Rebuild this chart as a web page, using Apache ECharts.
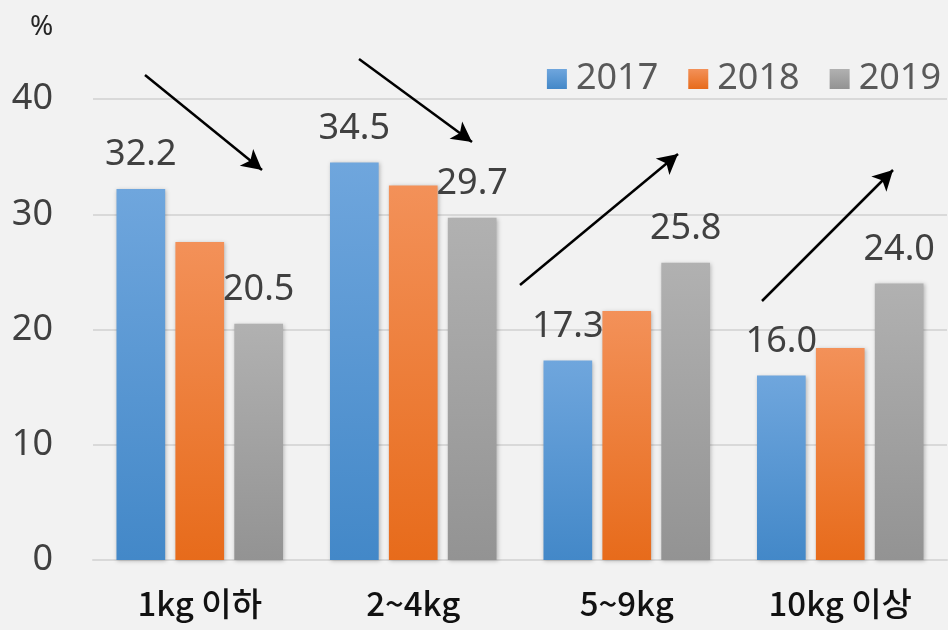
<!DOCTYPE html>
<html>
<head>
<meta charset="utf-8">
<script src="https://cdn.jsdelivr.net/npm/echarts@6/dist/echarts.min.js"></script>
<style>
html,body{margin:0;padding:0;background:#f2f2f2;}
#main{width:948px;height:630px;}
</style>
</head>
<body>
<div id="main"></div>
<script>
// 카테고리와 연도별 값
var categories = ['1kg 이하', '2~4kg', '5~9kg', '10kg 이상'];
var years = ['2017', '2018', '2019'];
var v2017 = [32.2, 34.5, 17.3, 16.0];
var v2018 = [27.6, 32.5, 21.6, 18.4];
var v2019 = [20.5, 29.7, 25.8, 24.0];
var yTicks = [0, 10, 20, 30, 40];

var grad = function (top, bottom) {
    return new echarts.graphic.LinearGradient(0, 0, 0, 1, [
        {offset: 0, color: top},
        {offset: 1, color: bottom}
    ]);
};
var colors = [grad('#6fa6dd', '#4388c8'), grad('#f39159', '#e76b1b'), grad('#b1b1b1', '#939393')];
var numFont = "'Noto Sans', 'Noto Sans CJK KR', sans-serif";

var makeSeries = function (name, data, idx, showLabel) {
    return {
        name: name,
        type: 'bar',
        data: data,
        barGap: '21%',
        barCategoryGap: '22%',
        itemStyle: {
            color: colors[idx],
            shadowBlur: 4,
            shadowColor: 'rgba(0,0,0,0.25)',
            shadowOffsetX: 1,
            shadowOffsetY: 1
        },
        label: {
            show: showLabel,
            position: 'top',
            distance: 16,
            color: '#404040',
            fontSize: 36,
            fontFamily: numFont,
            formatter: function (p) { return p.value.toFixed(1); }
        }
    };
};

var series = [
    makeSeries(years[0], v2017, 0, true),
    makeSeries(years[1], v2018, 1, false),
    makeSeries(years[2], v2019, 2, true)
];

// 추세 화살표
series[0].markLine = {
    silent: true,
    symbol: ['none', 'arrow'],
    symbolSize: [16, 20],
    label: {show: false},
    lineStyle: {color: '#000', width: 2.5, type: 'solid'},
    data: [
        [{x: 145, y: 75}, {x: 262, y: 170}],
        [{x: 359, y: 59}, {x: 472, y: 142}],
        [{x: 520, y: 285}, {x: 678, y: 154}],
        [{x: 762, y: 301}, {x: 893, y: 170}]
    ]
};

var myChart = echarts.init(document.getElementById('main'));
var option = {
    backgroundColor: '#f2f2f2',
    animation: false,
    title: {
        text: '%',
        left: 25,
        top: 8,
        textStyle: {color: '#262626', fontSize: 28, fontWeight: 'normal', fontFamily: numFont}
    },
    legend: {
        data: years,
        icon: 'rect',
        right: 2,
        top: 56,
        itemWidth: 20,
        itemHeight: 20,
        itemGap: 30,
        textStyle: {color: '#595959', fontSize: 36, fontFamily: numFont, padding: [0, 0, 0, 4]}
    },
    grid: {left: 93, right: 1, top: 99, bottom: 70},
    xAxis: {
        type: 'category',
        data: categories,
        axisTick: {show: false},
        axisLine: {lineStyle: {color: '#d9d9d9', width: 2}},
        axisLabel: {
            color: '#111',
            fontSize: 33,
            margin: 27,
            fontFamily: "'Noto Sans CJK KR', sans-serif",
            fontWeight: 500
        }
    },
    yAxis: {
        type: 'value',
        min: yTicks[0],
        max: yTicks[yTicks.length - 1],
        interval: 10,
        axisLine: {show: false},
        axisTick: {show: false},
        splitLine: {lineStyle: {color: '#d9d9d9', width: 2}},
        axisLabel: {color: '#404040', fontSize: 36, margin: 40, fontFamily: numFont}
    },
    series: series
};
myChart.setOption(option);
</script>
</body>
</html>
